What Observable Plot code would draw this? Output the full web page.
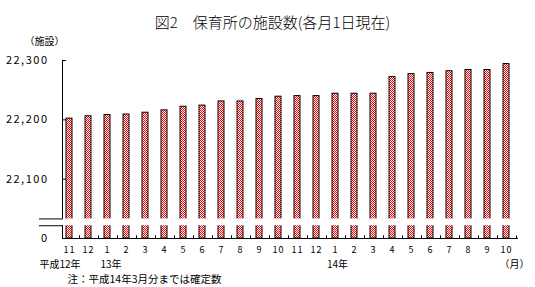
<!DOCTYPE html>
<html><head><meta charset="utf-8">
<script src="https://cdn.jsdelivr.net/npm/d3@7"></script>
<script src="https://cdn.jsdelivr.net/npm/@observablehq/plot@0.6"></script>
<style>body{margin:0;background:#fff}</style>
</head><body><div id="chart"></div>
<script>
const title = "図2　保育所の施設数(各月1日現在)";
const unitLabel = "（施設）";
const note = "注：平成14年3月分までは確定数";
const months = ["11","12","1","2","3","4","5","6","7","8","9","10","11","12","1","2","3","4","5","6","7","8","9","10"];
const values = [22202,22206,22208,22209,22212,22216,22222,22224,22231,22231,22235,22239,22240,22240,22244,22244,22244,22272,22277,22279,22282,22284,22284,22294];
const yTicks = [22000,22100,22200,22300];
const yearLabels = ["平成12年","13年","14年","（月）"];
const yearIndex = [0,2,14,23];
const breakValues = [22033,22021.5];

const data = months.map((m,i)=>({i, month:m, value:values[i]}));
const fmt = d3.format(",");
const font = "'Noto Sans CJK JP', 'Noto Sans', sans-serif";

const plot = Plot.plot({
  width:535, height:287,
  marginLeft:62, marginRight:17, marginTop:60, marginBottom:49,
  style:{fontFamily:font, background:"white", color:"black"},
  x:{type:"band", domain:d3.range(months.length), range:[59.5,515.5], paddingInner:13/19, paddingOuter:6.5/19, align:0.5},
  y:{domain:[22000,22300]},
  marks:[
    Plot.frame({anchor:"left"}),
    Plot.barY(data,{x:"i", y1:yTicks[0], y2:"value", fill:"url(#chk)", stroke:"black", strokeWidth:1}),
    Plot.ruleY([yTicks[0]]),
    Plot.ruleY(yTicks.slice(1),{insetRight:452}),
    Plot.ruleX(data,{x:"i", dx:10, y1:yTicks[0], y2:22004.5}),
    Plot.rect([0],{y1:breakValues[1], y2:breakValues[0], fill:"white", insetLeft:-2, insetRight:-2}),
    Plot.ruleY(breakValues,{dx:-23, insetRight:432}),
    Plot.axisY({ticks:yTicks, tickFormat:d=>d===yTicks[0]?"0":fmt(d), tickSize:0, tickPadding:14, fontSize:11, label:null}),
    Plot.axisX({tickFormat:i=>months[i], tickSize:0, tickPadding:8, fontSize:9, label:null}),
    Plot.text([title],{frameAnchor:"top", dx:-18, dy:-43, fontSize:15, fontWeight:300}),
    Plot.text([unitLabel],{frameAnchor:"top-left", textAnchor:"middle", dx:-18, dy:-23, fontSize:10}),
    Plot.text([yearLabels[0]],{x:()=>yearIndex[0], frameAnchor:"bottom", dx:-9.5, dy:29, fontSize:10}),
    Plot.text([yearLabels[1]],{x:()=>yearIndex[1], frameAnchor:"bottom", dx:3.5, dy:29, fontSize:10}),
    Plot.text([yearLabels[2]],{x:()=>yearIndex[2], frameAnchor:"bottom", dx:2, dy:29, fontSize:10}),
    Plot.text([yearLabels[3]],{x:()=>yearIndex[3], frameAnchor:"bottom", dx:8, dy:29, fontSize:10}),
    Plot.text([note],{frameAnchor:"bottom-left", textAnchor:"start", dx:5, dy:44, fontSize:10.5})
  ]
});

const svg = d3.select(plot);
const defs = svg.insert("defs", ":first-child");
const pat = defs.append("pattern").attr("id","chk").attr("width",2).attr("height",2).attr("patternUnits","userSpaceOnUse");
pat.append("rect").attr("width",2).attr("height",2).attr("fill","white");
pat.append("rect").attr("width",1).attr("height",1).attr("fill","#ff0000");
pat.append("rect").attr("x",1).attr("y",1).attr("width",1).attr("height",1).attr("fill","#ff0000");
svg.selectAll("[aria-label='y-axis tick label'] text").style("letter-spacing","1.5px");
svg.selectAll("[aria-label='x-axis tick label'] text").style("letter-spacing","1px");
document.getElementById("chart").appendChild(plot);
</script>
</body></html>
